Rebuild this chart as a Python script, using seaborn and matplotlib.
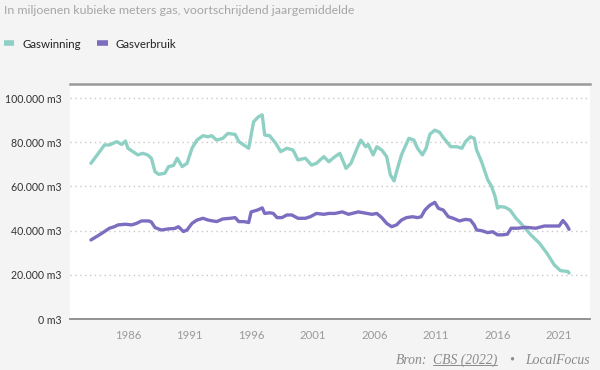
import pandas as pd
import numpy as np
import matplotlib.pyplot as plt
import seaborn as sns
from matplotlib.lines import Line2D

win_years = [1983.0, 1983.6, 1984.1, 1984.5, 1985.1, 1985.5, 1985.8, 1986.0, 1986.4,
             1986.8, 1987.2, 1987.6, 1987.9, 1988.2, 1988.5, 1989.0, 1989.3, 1989.7,
             1990.0, 1990.4, 1990.8, 1991.2, 1991.6, 1992.1, 1992.5, 1992.8, 1993.2,
             1993.7, 1994.1, 1994.7, 1995.0, 1995.4, 1995.8, 1995.9, 1996.2, 1996.6,
             1996.9, 1997.1, 1997.5, 1998.0, 1998.4, 1998.9, 1999.4, 1999.8, 2000.4,
             2000.9, 2001.3, 2001.9, 2002.3, 2002.8, 2003.2, 2003.7, 2004.1, 2004.6,
             2004.9, 2005.3, 2005.5, 2005.9, 2006.2, 2006.6, 2007.0, 2007.3, 2007.6,
             2007.8, 2008.2, 2008.8, 2009.2, 2009.5, 2009.9, 2010.2, 2010.5, 2010.9,
             2011.3, 2011.6, 2012.2, 2012.7, 2013.1, 2013.4, 2013.8, 2014.1, 2014.3,
             2014.7, 2015.2, 2015.5, 2015.8, 2016.0, 2016.2, 2016.6, 2017.0, 2017.5,
             2018.0, 2018.7, 2019.4, 2020.0, 2020.6, 2021.1, 2021.7, 2021.8]
win_values = [70.5, 75.0, 78.8, 78.8, 80.3, 79.0, 80.6, 77.3, 75.8,
              74.3, 75.0, 74.3, 72.8, 66.7, 65.5, 66.0, 69.0, 69.5,
              72.8, 69.0, 70.5, 77.3, 81.0, 83.0, 82.5, 83.0, 81.0,
              81.8, 84.0, 83.6, 80.3, 78.8, 77.3, 80.3, 89.3, 91.6,
              92.4, 83.3, 83.0, 79.5, 75.8, 77.3, 76.5, 72.0, 72.8,
              69.7, 70.5, 73.5, 71.2, 73.5, 75.0, 68.2, 70.5, 77.3,
              81.0, 78.0, 79.0, 74.3, 78.0, 76.5, 73.5, 65.2, 62.5,
              66.7, 74.3, 81.8, 81.0, 77.3, 74.3, 77.3, 83.6, 85.5,
              84.5, 82.1, 78.0, 78.0, 77.3, 80.3, 82.5, 81.8, 76.5,
              71.2, 63.0, 60.2, 55.4, 50.2, 50.9, 50.6, 49.4, 45.6,
              42.6, 38.1, 34.3, 29.8, 24.5, 21.9, 21.5, 20.8]

# Gasverbruik
use_years = [1983.0, 1983.6, 1984.1, 1984.5, 1984.9, 1985.2, 1985.8, 1986.3, 1986.7,
             1987.1, 1987.7, 1987.9, 1988.2, 1988.7, 1989.3, 1989.8, 1990.1, 1990.5,
             1990.8, 1991.2, 1991.6, 1992.1, 1992.5, 1993.2, 1993.7, 1994.3, 1994.7,
             1995.0, 1995.4, 1995.8, 1996.0, 1996.5, 1996.9, 1997.1, 1997.5, 1997.8,
             1998.1, 1998.5, 1998.9, 1999.3, 1999.8, 2000.4, 2000.8, 2001.3, 2001.9,
             2002.3, 2002.8, 2003.4, 2003.9, 2004.7, 2005.4, 2005.8, 2006.2, 2006.6,
             2007.0, 2007.4, 2007.8, 2008.2, 2008.6, 2009.1, 2009.5, 2009.8, 2010.1,
             2010.5, 2010.9, 2011.2, 2011.6, 2012.0, 2012.4, 2012.9, 2013.4, 2013.8,
             2014.1, 2014.3, 2014.7, 2015.2, 2015.6, 2016.0, 2016.4, 2016.8, 2017.1,
             2017.6, 2018.3, 2019.1, 2019.8, 2020.4, 2021.0, 2021.3, 2021.6, 2021.8]
use_values = [35.8, 37.8, 39.6, 41.1, 41.8, 42.6, 42.9, 42.6, 43.3,
              44.4, 44.4, 43.9, 41.4, 40.3, 40.8, 41.0, 41.8, 39.6,
              40.3, 43.3, 44.8, 45.6, 44.8, 44.1, 45.3, 45.6, 45.9,
              44.1, 44.1, 43.7, 48.5, 49.3, 50.3, 47.8, 48.1, 47.8,
              45.9, 45.9, 47.1, 47.1, 45.6, 45.6, 46.3, 47.8, 47.4,
              47.8, 47.8, 48.5, 47.4, 48.5, 47.8, 47.4, 47.8, 45.9,
              43.3, 41.8, 42.6, 44.8, 45.9, 46.3, 45.9, 46.3, 49.3,
              51.5, 52.8, 50.1, 49.3, 46.3, 45.6, 44.4, 45.1, 44.8,
              42.6, 40.3, 40.0, 39.1, 39.5, 38.1, 38.1, 38.4, 41.1,
              41.1, 41.5, 41.1, 42.1, 42.1, 42.1, 44.6, 42.6, 40.6]

series_names = ['Gaswinning', 'Gasverbruik']
series_colors = ['#8fd0c5', '#7d6dc0']
x_ticks = [1986, 1991, 1996, 2001, 2006, 2011, 2016, 2021]
y_ticks = [0, 20, 40, 60, 80, 100]

df = pd.concat([
    pd.DataFrame({'jaar': win_years, 'waarde': win_values, 'reeks': series_names[0]}),
    pd.DataFrame({'jaar': use_years, 'waarde': use_values, 'reeks': series_names[1]}),
])

sns.set_style('white')
plt.rcParams['font.family'] = ['Lato', 'DejaVu Sans']
bg = '#f4f4f4'

fig = plt.figure(figsize=(6, 3.7), dpi=100, facecolor=bg)
ax = fig.add_axes([70 / 600, 1 - 319 / 370, 520 / 600, 235 / 370])
ax.set_facecolor('white')

sns.lineplot(data=df, x='jaar', y='waarde', hue='reeks', palette=series_colors,
             hue_order=series_names, linewidth=2.4, legend=False, ax=ax, estimator=None)

ax.set_xlim(1981.3, 2023.5)
ax.set_ylim(0, 106.4)
ax.set_xticks(x_ticks)
ax.set_xticklabels([str(t) for t in x_ticks], color='#9a9a9a', fontsize=8.2)
ax.set_yticks(y_ticks)
ax.set_yticklabels([f'{t}.000 m3' if t else '0 m3' for t in y_ticks], color='#333333', fontsize=7.6)
ax.tick_params(axis='x', length=0, pad=8)
ax.tick_params(axis='y', length=0, pad=6)
ax.set_xlabel('')
ax.set_ylabel('')

for t in y_ticks[1:]:
    ax.axhline(t, color='#c8c8c8', lw=1, ls=(0, (1, 2.5)), zorder=0)

for s in ['left', 'right']:
    ax.spines[s].set_visible(False)
ax.spines['top'].set_color('#9a9a9a')
ax.spines['top'].set_linewidth(1.8)
ax.spines['bottom'].set_color('#8a8a8a')
ax.spines['bottom'].set_linewidth(1.3)

fig.text(4 / 600, 1 - 11 / 370, 'In miljoenen kubieke meters gas, voortschrijdend jaargemiddelde',
         color='#a6a6a6', fontsize=8.9, va='center', ha='left')

handles = [Line2D([], [], color=c, lw=4, solid_capstyle='butt') for c in series_colors]
fig.legend(handles, series_names, loc='center left', bbox_to_anchor=(4 / 600, 1 - 44 / 370),
           ncol=2, frameon=False, handlelength=0.9, handletextpad=0.7, columnspacing=1.4,
           borderpad=0, borderaxespad=0, fontsize=8.3, labelcolor='#222222')

# bronvermelding, van rechts naar links opgebouwd
fy = 1 - 360 / 370
src_font = dict(family=['Liberation Serif', 'DejaVu Serif'], style='italic', fontsize=9.8,
                color='#8a8a8a', va='center')
fig.canvas.draw()
inv = fig.transFigure.inverted()
x_right = 590 / 600
pieces = [('LocalFocus', 0.0), ('•', 12 / 600), ('CBS (2022)', 12 / 600), ('Bron:', 5 / 600)]
boxes = {}
for txt, gap in pieces:
    t = fig.text(x_right - gap, fy, txt, ha='right', **src_font)
    fig.canvas.draw()
    bb = t.get_window_extent().transformed(inv)
    boxes[txt] = bb
    x_right = bb.x0

bb = boxes['CBS (2022)']
fig.add_artist(Line2D([bb.x0, bb.x1], [bb.y0 + 0.005, bb.y0 + 0.005],
                      color='#8a8a8a', lw=0.7, transform=fig.transFigure))

fig.savefig('out.png', dpi=100, facecolor=bg)
